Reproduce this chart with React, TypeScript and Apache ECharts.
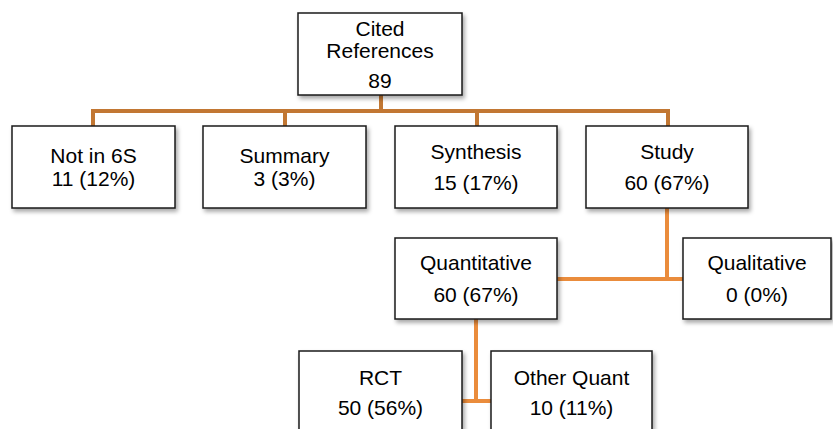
import React, { useEffect, useRef } from "react";
import * as echarts from "echarts";

// ---- data ----
const nodeTitles = ["Cited\nReferences", "Not in 6S", "Summary", "Synthesis", "Study", "Quantitative", "Qualitative", "RCT", "Other Quant"];
const nodeCounts = [89, 11, 3, 15, 60, 60, 0, 50, 10];
const nodePercents: (number | null)[] = [null, 12, 3, 17, 67, 67, 0, 56, 11];

// ---- layout (axis units = pixels of the 833x429 canvas) ----
const nodeCenterX = [380, 93.5, 284.5, 476, 667, 476, 757, 380.5, 571.5];
const nodeCenterY = [54, 167, 167, 167, 167, 278.5, 278.5, 392, 392];
const nodeWidth = [164, 163, 163, 162, 162, 162, 148, 163, 161];
const nodeHeight = [82, 82, 82, 82, 82, 81, 81, 82, 82];
const nodeLineGap = [0, 23, 23, 31, 31, 32, 32, 30, 30];

const edgePaths: number[][][] = [
  [[381, 95], [381, 111]],
  [[93, 126], [93, 111], [668, 111], [668, 126]],
  [[285, 111], [285, 126]],
  [[477, 111], [477, 126]],
  [[667, 208], [667, 279]],
  [[557, 279], [683, 279]],
  [[476, 319], [476, 401]],
  [[462, 401], [491, 401]],
];
const edgeColors = ["#C27733", "#C27733", "#C27733", "#C27733", "#EA8C3C", "#EA8C3C", "#EA8C3C", "#EA8C3C"];

const FONT = "'Liberation Sans', Arial, Helvetica, sans-serif";

export default function App() {
  const ref = useRef<HTMLDivElement>(null);
  useEffect(() => {
    if (!ref.current) return;
    const chart = echarts.init(ref.current, undefined, { renderer: "svg" });
    const nodeData = nodeTitles.map((_, i) => [nodeCenterX[i], nodeCenterY[i], i]);
    const edgeData = edgePaths.map((_, i) => [edgePaths[i][0][0], edgePaths[i][0][1], i]);
    chart.setOption({
      animation: false,
      backgroundColor: "#ffffff",
      grid: { left: 0, right: 0, top: 0, bottom: 0 },
      xAxis: { type: "value", min: 0, max: 833, show: false },
      yAxis: { type: "value", min: 0, max: 429, inverse: true, show: false },
      series: [
        {
          type: "custom",
          coordinateSystem: "cartesian2d",
          clip: false,
          z: 1,
          data: edgeData,
          renderItem: (params: any, api: any) => {
            const i = api.value(2);
            const pts = edgePaths[i].map((p) => api.coord(p));
            return {
              type: "polyline",
              shape: { points: pts },
              style: { stroke: edgeColors[i], lineWidth: 4, fill: null, lineJoin: "miter" },
            };
          },
        },
        {
          type: "custom",
          coordinateSystem: "cartesian2d",
          clip: false,
          z: 2,
          data: nodeData,
          renderItem: (params: any, api: any) => {
            const i = api.value(2);
            const c = api.coord([api.value(0), api.value(1)]);
            const sz = api.size([nodeWidth[i], nodeHeight[i]]);
            const w = sz[0];
            const h = sz[1];
            const children: any[] = [
              {
                type: "rect",
                shape: { x: c[0] - w / 2, y: c[1] - h / 2, width: w, height: h },
                style: {
                  fill: "#ffffff",
                  stroke: "#1a1a1a",
                  lineWidth: 1.5,
                  shadowBlur: 4,
                  shadowOffsetX: 2,
                  shadowOffsetY: 3,
                  shadowColor: "rgba(0,0,0,0.35)",
                },
              },
            ];
            const textStyle = (text: string, y: number) => ({
              type: "text",
              style: {
                text,
                x: c[0],
                y,
                align: "center",
                verticalAlign: "middle",
                fontSize: 21,
                fontFamily: FONT,
                fill: "#000000",
              },
            });
            if (i === 0) {
              const lines = nodeTitles[i].split("\n");
              children.push(textStyle(lines[0], c[1] - 26));
              children.push(textStyle(lines[1], c[1] - 4));
              children.push(textStyle(String(nodeCounts[i]), c[1] + 26));
            } else {
              const g = nodeLineGap[i];
              const second = `${nodeCounts[i]} (${nodePercents[i]}%)`;
              children.push(textStyle(nodeTitles[i], c[1] - g / 2));
              children.push(textStyle(second, c[1] + g / 2));
            }
            return { type: "group", children };
          },
        },
      ],
    });
    return () => chart.dispose();
  }, []);
  return (
    <div
      ref={ref}
      style={{ position: "fixed", left: 0, top: 0, width: 833, height: 429 }}
    />
  );
}
